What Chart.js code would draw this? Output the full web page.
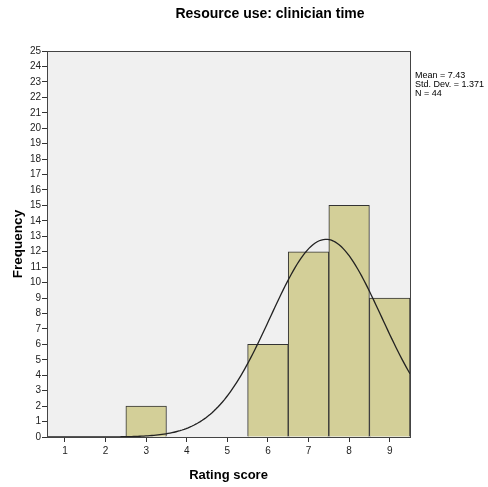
<!DOCTYPE html>
<html>
<head>
<meta charset="utf-8">
<script src="https://cdn.jsdelivr.net/npm/chart.js@4"></script>
<style>
  html, body { margin: 0; padding: 0; background: #fff; }
  #wrap { width: 488px; height: 487px; }
</style>
</head>
<body>
<div id="wrap"><canvas id="hist"></canvas></div>
<script>
// histogram bins (rating score) and counts
const scores = [3, 6, 7, 8, 9];
const counts = [2, 6, 12, 15, 9];
const xTicks = [1, 2, 3, 4, 5, 6, 7, 8, 9];
const yTicks = [0, 1, 2, 3, 4, 5, 6, 7, 8, 9, 10, 11, 12, 13, 14, 15, 16, 17, 18, 19, 20, 21, 22, 23, 24, 25];
const statLines = ["Mean = 7.43", "Std. Dev. = 1.371", "N = 44"];
const mean = 7.43, sd = 1.371, n = 44;

const X_MIN = 0.557, X_MAX = 9.5;

// fitted normal curve, scaled to counts (bin width 1)
const curveX = [];
for (let i = 0; i <= 180; i++) curveX.push(X_MIN + i * (X_MAX - X_MIN) / 180);
const curve = curveX.map(x => ({
  x: x,
  y: n / (sd * Math.sqrt(2 * Math.PI)) * Math.exp(-0.5 * ((x - mean) / sd) ** 2)
}));

const FONT = "'Liberation Sans', Arial, sans-serif";

// grey plot panel with a dark frame, plus title and stats box
const panel = {
  id: "panel",
  beforeDraw(chart) {
    const { ctx, chartArea: a } = chart;
    ctx.save();
    ctx.fillStyle = "#f0f0f0";
    ctx.fillRect(a.left, a.top, a.right - a.left, a.bottom - a.top);
    ctx.restore();
  },
  afterDraw(chart) {
    const { ctx, chartArea: a } = chart;
    ctx.save();
    ctx.strokeStyle = "#444";
    ctx.lineWidth = 1;
    ctx.strokeRect(Math.round(a.left) + 0.5, Math.round(a.top) + 0.5,
      Math.round(a.right - a.left), Math.round(a.bottom - a.top));
    ctx.fillStyle = "#000";
    ctx.font = "bold 14px " + FONT;
    ctx.textAlign = "center";
    ctx.textBaseline = "middle";
    ctx.fillText("Resource use: clinician time", 270, 14);
    ctx.font = "9px " + FONT;
    ctx.textAlign = "left";
    statLines.forEach((t, i) => ctx.fillText(t, 415, 76 + i * 8.7));
    ctx.restore();
  }
};

new Chart(document.getElementById("hist"), {
  data: {
    datasets: [
      {
        type: "line",
        data: curve,
        borderColor: "#222",
        borderWidth: 1.3,
        pointRadius: 0,
        tension: 0,
        order: 0
      },
      {
        type: "bar",
        data: scores.map((s, i) => ({ x: s, y: counts[i] })),
        backgroundColor: "#d3cf98",
        borderColor: "#333",
        borderWidth: 1,
        barPercentage: 1,
        categoryPercentage: 1,
        order: 1
      }
    ]
  },
  options: {
    responsive: true,
    maintainAspectRatio: false,
    animation: false,
    layout: { padding: { top: 51, right: 78, left: 0, bottom: 0 } },
    plugins: { legend: { display: false }, tooltip: { enabled: false } },
    scales: {
      x: {
        type: "linear",
        offset: false,
        min: X_MIN,
        max: X_MAX,
        afterBuildTicks(scale) { scale.ticks = xTicks.map(v => ({ value: v })); },
        afterFit(scale) { scale.height = 50; },
        grid: { drawOnChartArea: false, offset: false, tickLength: 5, color: "#333" },
        border: { display: false },
        ticks: { color: "#222", font: { family: FONT, size: 10 }, padding: 3 },
        title: { display: true, text: "Rating score", color: "#000", font: { family: FONT, size: 13, weight: "bold" }, padding: { top: 1 } }
      },
      y: {
        min: 0,
        max: 25,
        afterBuildTicks(scale) { scale.ticks = yTicks.map(v => ({ value: v })); },
        afterFit(scale) { scale.width = 47; },
        grid: { drawOnChartArea: false, tickLength: 5, color: "#333" },
        border: { display: false },
        ticks: { color: "#222", font: { family: FONT, size: 10 }, padding: 1 },
        title: { display: true, text: "Frequency", color: "#000", font: { family: FONT, size: 13.5, weight: "bold" }, padding: { top: 10, bottom: 0 } }
      }
    }
  },
  plugins: [panel]
});
</script>
</body>
</html>
